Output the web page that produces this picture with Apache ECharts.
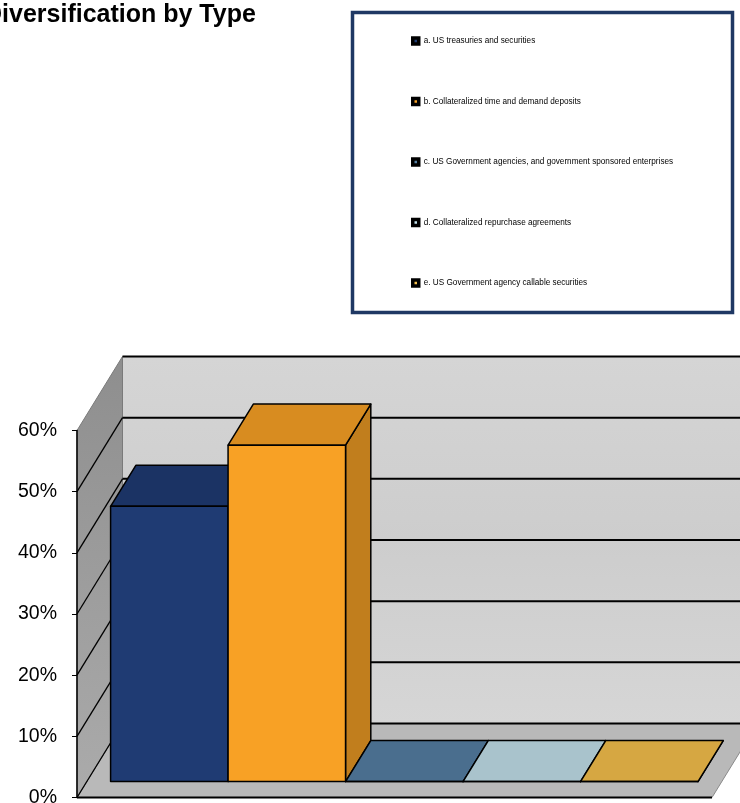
<!DOCTYPE html>
<html><head><meta charset="utf-8">
<script src="https://cdn.jsdelivr.net/npm/echarts@6/dist/echarts.min.js"></script>
<style>html,body{margin:0;padding:0;background:#fff;overflow:hidden}#c{width:740px;height:803px}</style>
</head><body><div id="c"></div>
<script>
// ---- data ----
const titleText = 'Diversification by Type';
const categories = ['Type'];
const seriesNames = [
  'a. US treasuries and securities',
  'b. Collateralized time and demand deposits',
  'c. US Government agencies, and government sponsored enterprises',
  'd. Collateralized repurchase agreements',
  'e. US Government agency callable securities'
];
const seriesValues = [0.45, 0.55, 0, 0, 0];
const yTicks = [0, 0.1, 0.2, 0.3, 0.4, 0.5, 0.6];

// ---- styles ----
const seriesColors = ['#1f3b73', '#f8a125', '#557fa3', '#c2e0eb', '#f6c04c'];
const DEPTH = [45.5, -74];      // oblique depth vector of the plot box
const BAR_FRONT = 0.215, BAR_BACK = 0.77; // bar position inside the depth
const CLUSTER = 0.925;          // share of the category band used by the bars

const chart = echarts.init(document.getElementById('c'), null, {renderer: 'canvas'});

function pct(v) { return Math.round(v * 100) + '%'; }

function darken(col, k) {
  const c = echarts.color.parse(col);
  return 'rgb(' + Math.round(c[0] * (1 - k)) + ',' + Math.round(c[1] * (1 - k)) + ',' + Math.round(c[2] * (1 - k)) + ')';
}

function renderWalls(params, api) {
  const band = api.size([1, 0])[0];
  const c0 = api.coord([0, 0]);
  const xL = c0[0] - band / 2, xR = c0[0] + band / 2;
  const yB = c0[1];
  const yT = api.coord([0, yTicks[yTicks.length - 1]])[1];
  const dx = DEPTH[0], dy = DEPTH[1];
  const children = [];
  children.push({type: 'polygon', shape: {points: [[xL + dx, yT + dy], [xR + dx + 40, yT + dy], [xR + dx + 40, yB + dy], [xL + dx, yB + dy]]},
    style: {fill: new echarts.graphic.LinearGradient(0, 0, 0, 1, [{offset: 0, color: '#d5d5d5'}, {offset: 0.5, color: '#cdcdcd'}, {offset: 1, color: '#d6d6d6'}]), stroke: null}});
  children.push({type: 'polygon', shape: {points: [[xL, yB], [xR, yB], [xR + dx, yB + dy], [xL + dx, yB + dy]]},
    style: {fill: '#b9b9b9', stroke: '#8a8a8a', lineWidth: 1}});
  children.push({type: 'polygon', shape: {points: [[xL, yB], [xL, yT], [xL + dx, yT + dy], [xL + dx, yB + dy]]},
    style: {fill: new echarts.graphic.LinearGradient(0, 0, 0, 1, [{offset: 0, color: '#8e8e8e'}, {offset: 1, color: '#ababab'}]), stroke: '#7a7a7a', lineWidth: 1}});
  yTicks.forEach(function (t, k) {
    const yt = api.coord([0, t])[1];
    children.push({type: 'line', shape: {x1: xL + dx, y1: yt + dy, x2: xR + dx + 40, y2: yt + dy}, style: {stroke: '#000', lineWidth: 2}});
    if (k < yTicks.length - 1) {
      children.push({type: 'line', shape: {x1: xL, y1: yt, x2: xL + dx, y2: yt + dy}, style: {stroke: '#000', lineWidth: 1.3}});
    }
  });
  children.push({type: 'line', shape: {x1: xL, y1: yB, x2: xR, y2: yB}, style: {stroke: '#000', lineWidth: 2}});
  return {type: 'group', children: children};
}

function makeBarRender(i) {
  return function (params, api) {
    const v = api.value(1);
    const band = api.size([1, 0])[0];
    const c0 = api.coord([api.value(0), 0]);
    const cTop = api.coord([api.value(0), v]);
    const cw = band * CLUSTER, bw = cw / seriesNames.length;
    const x0 = c0[0] - cw / 2 + i * bw, x1 = x0 + bw;
    const fx = DEPTH[0] * BAR_FRONT, fy = DEPTH[1] * BAR_FRONT;
    const bx = DEPTH[0] * BAR_BACK, by = DEPTH[1] * BAR_BACK;
    const yb = c0[1], yt = cTop[1];
    const col = api.visual('color');
    const topCol = darken(col, 0.13);
    const sideCol = darken(col, 0.22);
    const st = {stroke: '#000', lineWidth: 1.5, lineJoin: 'round'};
    const children = [
      {type: 'polygon', shape: {points: [[x1 + fx, yb + fy], [x1 + bx, yb + by], [x1 + bx, yt + by], [x1 + fx, yt + fy]]}, style: Object.assign({fill: sideCol}, st)},
      {type: 'polygon', shape: {points: [[x0 + fx, yt + fy], [x1 + fx, yt + fy], [x1 + bx, yt + by], [x0 + bx, yt + by]]}, style: Object.assign({fill: topCol}, st)},
      {type: 'polygon', shape: {points: [[x0 + fx, yb + fy], [x1 + fx, yb + fy], [x1 + fx, yt + fy], [x0 + fx, yt + fy]]}, style: Object.assign({fill: col}, st)}
    ];
    return {type: 'group', children: children};
  };
}

const series = [{
  type: 'custom', name: '_walls', coordinateSystem: 'cartesian2d', z: 1, silent: true,
  renderItem: renderWalls, data: [[0, 0]], tooltip: {show: false}
}];
seriesNames.forEach(function (n, i) {
  series.push({
    type: 'custom', name: n, coordinateSystem: 'cartesian2d', z: 2 + i,
    itemStyle: {color: seriesColors[i]},
    renderItem: makeBarRender(i),
    data: [[0, seriesValues[i]]]
  });
});

chart.setOption({
  animation: false,
  backgroundColor: '#fff',
  title: {
    text: titleText, left: -16, top: 3, padding: 0,
    textStyle: {fontFamily: 'Liberation Sans', fontWeight: 'bold', fontSize: 25, color: '#000'}
  },
  graphic: [{
    type: 'rect', shape: {x: 352.5, y: 12.5, width: 380, height: 300},
    style: {fill: '#fff', stroke: '#1f3864', lineWidth: 3.5}, z: -1
  }],
  legend: {
    data: seriesNames, orient: 'vertical', left: 411, top: 36, padding: 0,
    icon: 'rect', itemWidth: 6, itemHeight: 6, itemGap: 50.5,
    itemStyle: {borderColor: '#000', borderWidth: 3.5},
    textStyle: {fontFamily: 'Liberation Sans', fontSize: 8.2, color: '#000', lineHeight: 10},
    selectedMode: false
  },
  grid: {left: 77, right: 28, top: 430.5, bottom: 5.5, containLabel: false, outerBoundsMode: 'none'},
  xAxis: {
    type: 'category', data: categories, boundaryGap: true,
    axisLine: {show: false}, axisTick: {show: false}, axisLabel: {show: false}, splitLine: {show: false}
  },
  yAxis: {
    type: 'value', min: 0, max: 0.6, interval: 0.1, z: 10,
    axisLine: {show: true, lineStyle: {color: '#000', width: 1.5}},
    axisTick: {show: true, length: 5, lineStyle: {color: '#000', width: 1}},
    axisLabel: {formatter: pct, margin: 20, padding: [3, 0, 0, 0], fontFamily: 'Liberation Sans', fontSize: 19.5, color: '#000'},
    splitLine: {show: false}
  },
  series: series
});
</script>
</body></html>
